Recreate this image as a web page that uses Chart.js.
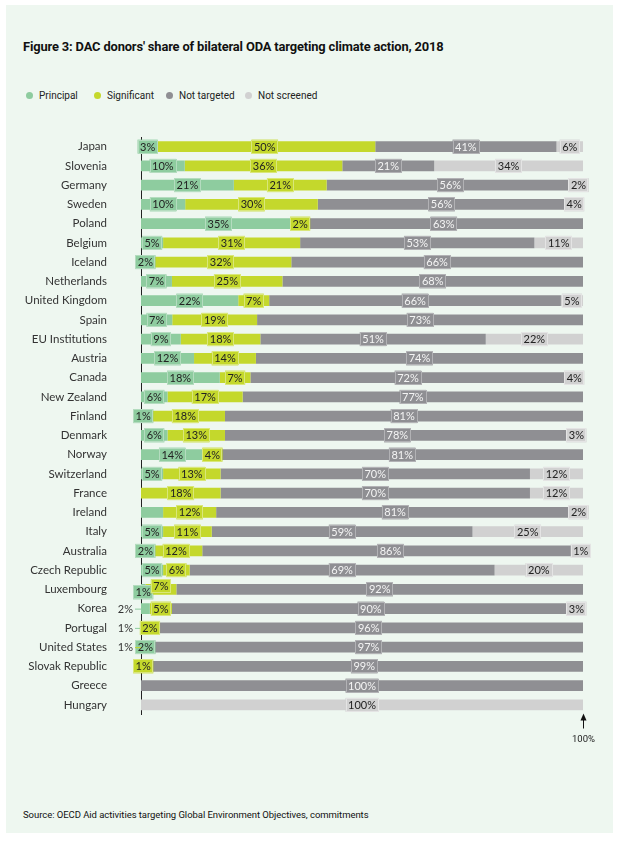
<!DOCTYPE html>
<html>
<head>
<meta charset="utf-8">
<script src="https://cdn.jsdelivr.net/npm/chart.js@4.4.1/dist/chart.umd.min.js"></script>
<style>
    body { margin: 0; background: #fff; }
    #panel { position: absolute; left: 6px; top: 5px; width: 607px; height: 828px; background: #eef7f0; }
    #title { position: absolute; left: 23px; top: 39px; font: bold 12.9px Roboto, sans-serif; color: #111; letter-spacing: -0.15px; white-space: nowrap; }
    #legend { position: absolute; left: 0; top: 90px; font: 10px Roboto, sans-serif; color: #222; white-space: nowrap; }
    #legend span { position: absolute; top: 0; }
    #legend i { display: inline-block; width: 7px; height: 7px; border-radius: 50%; margin-right: 6px; vertical-align: 0px; }
    #source { position: absolute; left: 23px; top: 809px; font: 9.5px Roboto, sans-serif; color: #111; white-space: nowrap; letter-spacing: -0.05px; }
    #c { position: absolute; left: 0; top: 0; }
</style>
</head>
<body>
<div id="panel"></div>
<div id="title">Figure 3: DAC donors' share of bilateral ODA targeting climate action, 2018</div>
<div id="legend"></div>
<div id="source">Source: OECD Aid activities targeting Global Environment Objectives, commitments</div>
<canvas id="c" width="623" height="842"></canvas>
<script>
const countries = ['Japan', 'Slovenia', 'Germany', 'Sweden', 'Poland', 'Belgium', 'Iceland', 'Netherlands',
    'United Kingdom', 'Spain', 'EU Institutions', 'Austria', 'Canada', 'New Zealand', 'Finland', 'Denmark',
    'Norway', 'Switzerland', 'France', 'Ireland', 'Italy', 'Australia', 'Czech Republic', 'Luxembourg',
    'Korea', 'Portugal', 'United States', 'Slovak Republic', 'Greece', 'Hungary'];

// shares in % as printed on the bars
const principal   = [3, 10, 21, 10, 35, 5, 2, 7, 22, 7, 9, 12, 18, 6, 1, 6, 14, 5, 0, 5, 5, 2, 5, 1, 2, 1, 2, 0, 0, 0];
const significant = [50, 36, 21, 30, 2, 31, 32, 25, 7, 19, 18, 14, 7, 17, 18, 13, 4, 13, 18, 12, 11, 12, 6, 7, 5, 2, 1, 1, 0, 0];
const notTargeted = [41, 21, 56, 56, 63, 53, 66, 68, 66, 73, 51, 74, 72, 77, 81, 78, 81, 70, 70, 81, 59, 86, 69, 92, 90, 96, 97, 99, 100, 0];
const notScreened = [6, 34, 2, 4, 0, 11, 0, 0, 5, 0, 22, 0, 4, 0, 0, 3, 0, 12, 12, 2, 25, 1, 20, 0, 3, 0, 0, 0, 0, 100];

const seriesNames = ['Principal', 'Significant', 'Not targeted', 'Not screened'];
const seriesValues = [principal, significant, notTargeted, notScreened];
const colors = ['#8ecc9f', '#c4d82c', '#8f8f93', '#d1d1d1'];
const boxEdge = ['#b4dcbf', '#d9e77a', '#b2b2b5', '#e4e4e4'];
const textColors = ['#222', '#222', '#f4f4f4', '#222'];

// label exceptions (series index per country)
const labelTweaks = {
    'Ireland|0': { hide: true },
    'Luxembourg|0': { dy: 3 },
    'Luxembourg|1': { dy: -3 },
    'Korea|0': { outside: true },
    'Portugal|0': { outside: true },
    'United States|1': { outside: true }
};

// each row is drawn as a 100% stacked bar
const rowTotals = countries.map((c, i) => seriesValues.reduce((s, arr) => s + arr[i], 0));

const legendEl = document.getElementById('legend');
const legendLeft = [26, 94, 166, 245];
seriesNames.forEach((n, i) => {
    legendEl.innerHTML += '<span style="left:' + legendLeft[i] + 'px"><i style="background:' + colors[i] + '"></i>' + n + '</span>';
});

const segLabels = {
    id: 'segLabels',
    afterDatasetsDraw(chart) {
        const ctx = chart.ctx;
        const area = chart.chartArea;
        ctx.save();
        ctx.font = '11px Lato';
        ctx.textBaseline = 'middle';
        chart.data.datasets.forEach((ds, di) => {
            const meta = chart.getDatasetMeta(di);
            meta.data.forEach((bar, i) => {
                const v = seriesValues[di][i];
                if (!v) return;
                const tw = labelTweaks[countries[i] + '|' + di] || {};
                if (tw.hide) return;
                const txt = v + '%';
                const cy = bar.y + (tw.dy || 0);
                if (tw.outside) {
                    ctx.fillStyle = '#333';
                    ctx.textAlign = 'right';
                    ctx.fillText(txt, area.left - 8, cy + 0.5);
                    ctx.strokeStyle = colors[di];
                    ctx.lineWidth = 1;
                    ctx.beginPath();
                    ctx.moveTo(area.left - 6, cy + 0.5);
                    ctx.lineTo(area.left, cy + 0.5);
                    ctx.stroke();
                    return;
                }
                const cx = (bar.base + bar.x) / 2;
                const w = ctx.measureText(txt).width + 5;
                const h = 14;
                ctx.fillStyle = colors[di];
                ctx.fillRect(cx - w / 2, cy - h / 2, w, h);
                ctx.strokeStyle = boxEdge[di];
                ctx.lineWidth = 1;
                ctx.strokeRect(Math.round(cx - w / 2) + 0.5, Math.round(cy - h / 2) + 0.5, Math.round(w) - 1, h - 1);
                ctx.fillStyle = textColors[di];
                ctx.textAlign = 'center';
                ctx.fillText(txt, cx, cy + 0.5);
            });
        });

        // 100% marker under the last bar
        const x100 = Math.round(chart.scales.x.getPixelForValue(100)) + 0.5;
        ctx.strokeStyle = '#111';
        ctx.fillStyle = '#111';
        ctx.lineWidth = 1;
        ctx.beginPath();
        ctx.moveTo(x100, area.bottom + 3);
        ctx.lineTo(x100, area.bottom + 14);
        ctx.stroke();
        ctx.beginPath();
        ctx.moveTo(x100, area.bottom - 1);
        ctx.lineTo(x100 - 3, area.bottom + 6);
        ctx.lineTo(x100 + 3, area.bottom + 6);
        ctx.closePath();
        ctx.fill();
        ctx.font = '9.5px Roboto';
        ctx.textAlign = 'center';
        ctx.fillStyle = '#222';
        ctx.fillText('100%', x100, area.bottom + 25);
        ctx.restore();
    }
};

new Chart(document.getElementById('c'), {
    type: 'bar',
    data: {
        labels: countries,
        datasets: seriesNames.map((n, di) => ({
            label: n,
            data: seriesValues[di].map((v, i) => v / rowTotals[i] * 100),
            backgroundColor: colors[di],
            borderWidth: 0,
            categoryPercentage: 1,
            barPercentage: 0.55
        }))
    },
    options: {
        indexAxis: 'y',
        responsive: false,
        animation: false,
        devicePixelRatio: 1,
        layout: { padding: { left: 0, top: 137, right: 40, bottom: 127.5 } },
        plugins: { legend: { display: false }, tooltip: { enabled: false } },
        scales: {
            x: { stacked: true, min: 0, max: 100, display: false },
            y: {
                stacked: true,
                grid: { display: false, drawTicks: false },
                border: { display: true, color: '#222', width: 1 },
                ticks: { color: '#333', padding: 34, font: { family: 'Lato', size: 11.5 } },
                afterFit: (scale) => { scale.width = 141; }
            }
        }
    },
    plugins: [segLabels]
});
</script>
</body>
</html>
